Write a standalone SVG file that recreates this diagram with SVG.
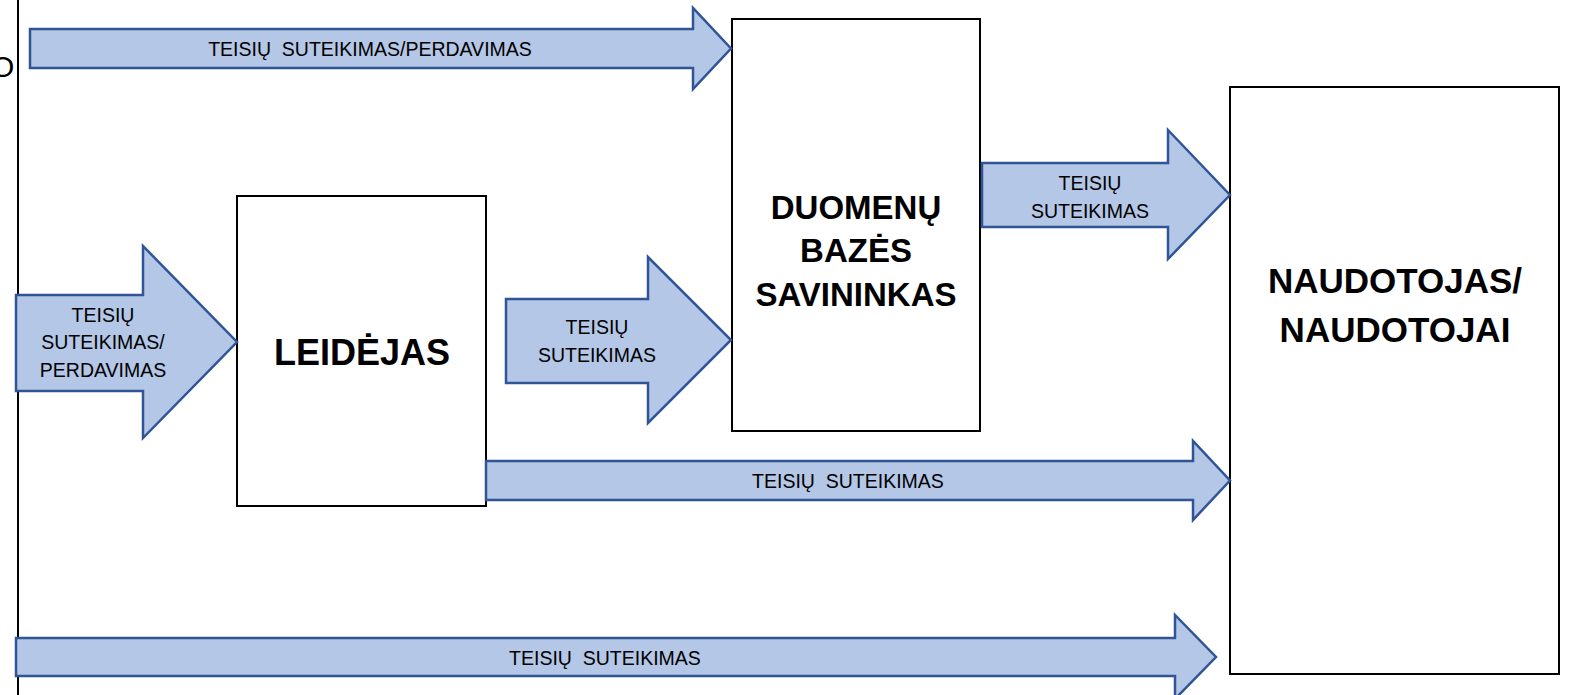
<svg xmlns="http://www.w3.org/2000/svg" width="1570" height="695" viewBox="0 0 1570 695">
<style>
.arrow{fill:#B4C7E7;stroke:#2F5597;stroke-width:2.5;stroke-linejoin:miter}
.box{fill:#fff;stroke:#000;stroke-width:2}
.lbl{font-family:"Liberation Sans",Arial,sans-serif;font-size:19.5px;fill:#000;text-anchor:middle;dominant-baseline:central}
.big{font-family:"Liberation Sans",Arial,sans-serif;font-weight:bold;fill:#000;text-anchor:middle;dominant-baseline:central}
</style>
<rect width="1570" height="695" fill="#fff"/>
<line x1="18" y1="0" x2="18" y2="695" stroke="#000" stroke-width="2"/>
<text x="-9" y="66" style="font-family:'Liberation Sans',Arial,sans-serif;font-size:30px;dominant-baseline:central">O</text>
<g id="node-duomenu">
<rect class="box" x="732" y="19" width="248" height="412"/>
<text class="big" x="856" y="207" font-size="33">DUOMENŲ</text>
<text class="big" x="856" y="250" font-size="33">BAZĖS</text>
<text class="big" x="856" y="294" font-size="33">SAVININKAS</text>
</g>
<g id="node-leidejas">
<rect class="box" x="237" y="196" width="249" height="310"/>
<text class="big" x="362" y="352" font-size="36">LEIDĖJAS</text>
</g>
<g id="node-naudotojas">
<rect class="box" x="1230" y="87" width="329" height="587"/>
<text class="big" x="1395" y="280" font-size="35">NAUDOTOJAS/</text>
<text class="big" x="1395" y="329" font-size="35">NAUDOTOJAI</text>
</g>
<g id="connectors">
<g id="arrow-top">
<polygon class="arrow" points="30,29 693,29 693,8 731,48.5 693,89 693,68 30,68"/>
<text class="lbl" x="370" y="49">TEISIŲ &#160;SUTEIKIMAS/PERDAVIMAS</text>
</g>
<g id="arrow-left">
<polygon class="arrow" points="16,295 143,295 143,246 237,342 143,438 143,391 16,391"/>
<text class="lbl" x="103" y="315" font-size="20">TEISIŲ</text>
<text class="lbl" x="103" y="342" font-size="20">SUTEIKIMAS/</text>
<text class="lbl" x="103" y="370" font-size="20">PERDAVIMAS</text>
</g>
<g id="arrow-mid">
<polygon class="arrow" points="506,299 648,299 648,257 731,340 648,423 648,383 506,383"/>
<text class="lbl" x="597" y="327" font-size="19.5">TEISIŲ</text>
<text class="lbl" x="597" y="355" font-size="19.5">SUTEIKIMAS</text>
</g>
<g id="arrow-db-user">
<polygon class="arrow" points="982,163 1168,163 1168,130 1230,195 1168,259 1168,227 982,227"/>
<text class="lbl" x="1090" y="183" font-size="18.5">TEISIŲ</text>
<text class="lbl" x="1090" y="211" font-size="18.5">SUTEIKIMAS</text>
</g>
<g id="arrow-leid-user">
<polygon class="arrow" points="486,461 1193,461 1193,441 1230,480.5 1193,520 1193,500 486,500"/>
<text class="lbl" x="848" y="481">TEISIŲ &#160;SUTEIKIMAS</text>
</g>
<g id="arrow-bottom">
<polygon class="arrow" points="16,638 1175,638 1175,615 1216,657 1175,699 1175,676 16,676"/>
<text class="lbl" x="605" y="658">TEISIŲ &#160;SUTEIKIMAS</text>
</g>
</g>
</svg>
